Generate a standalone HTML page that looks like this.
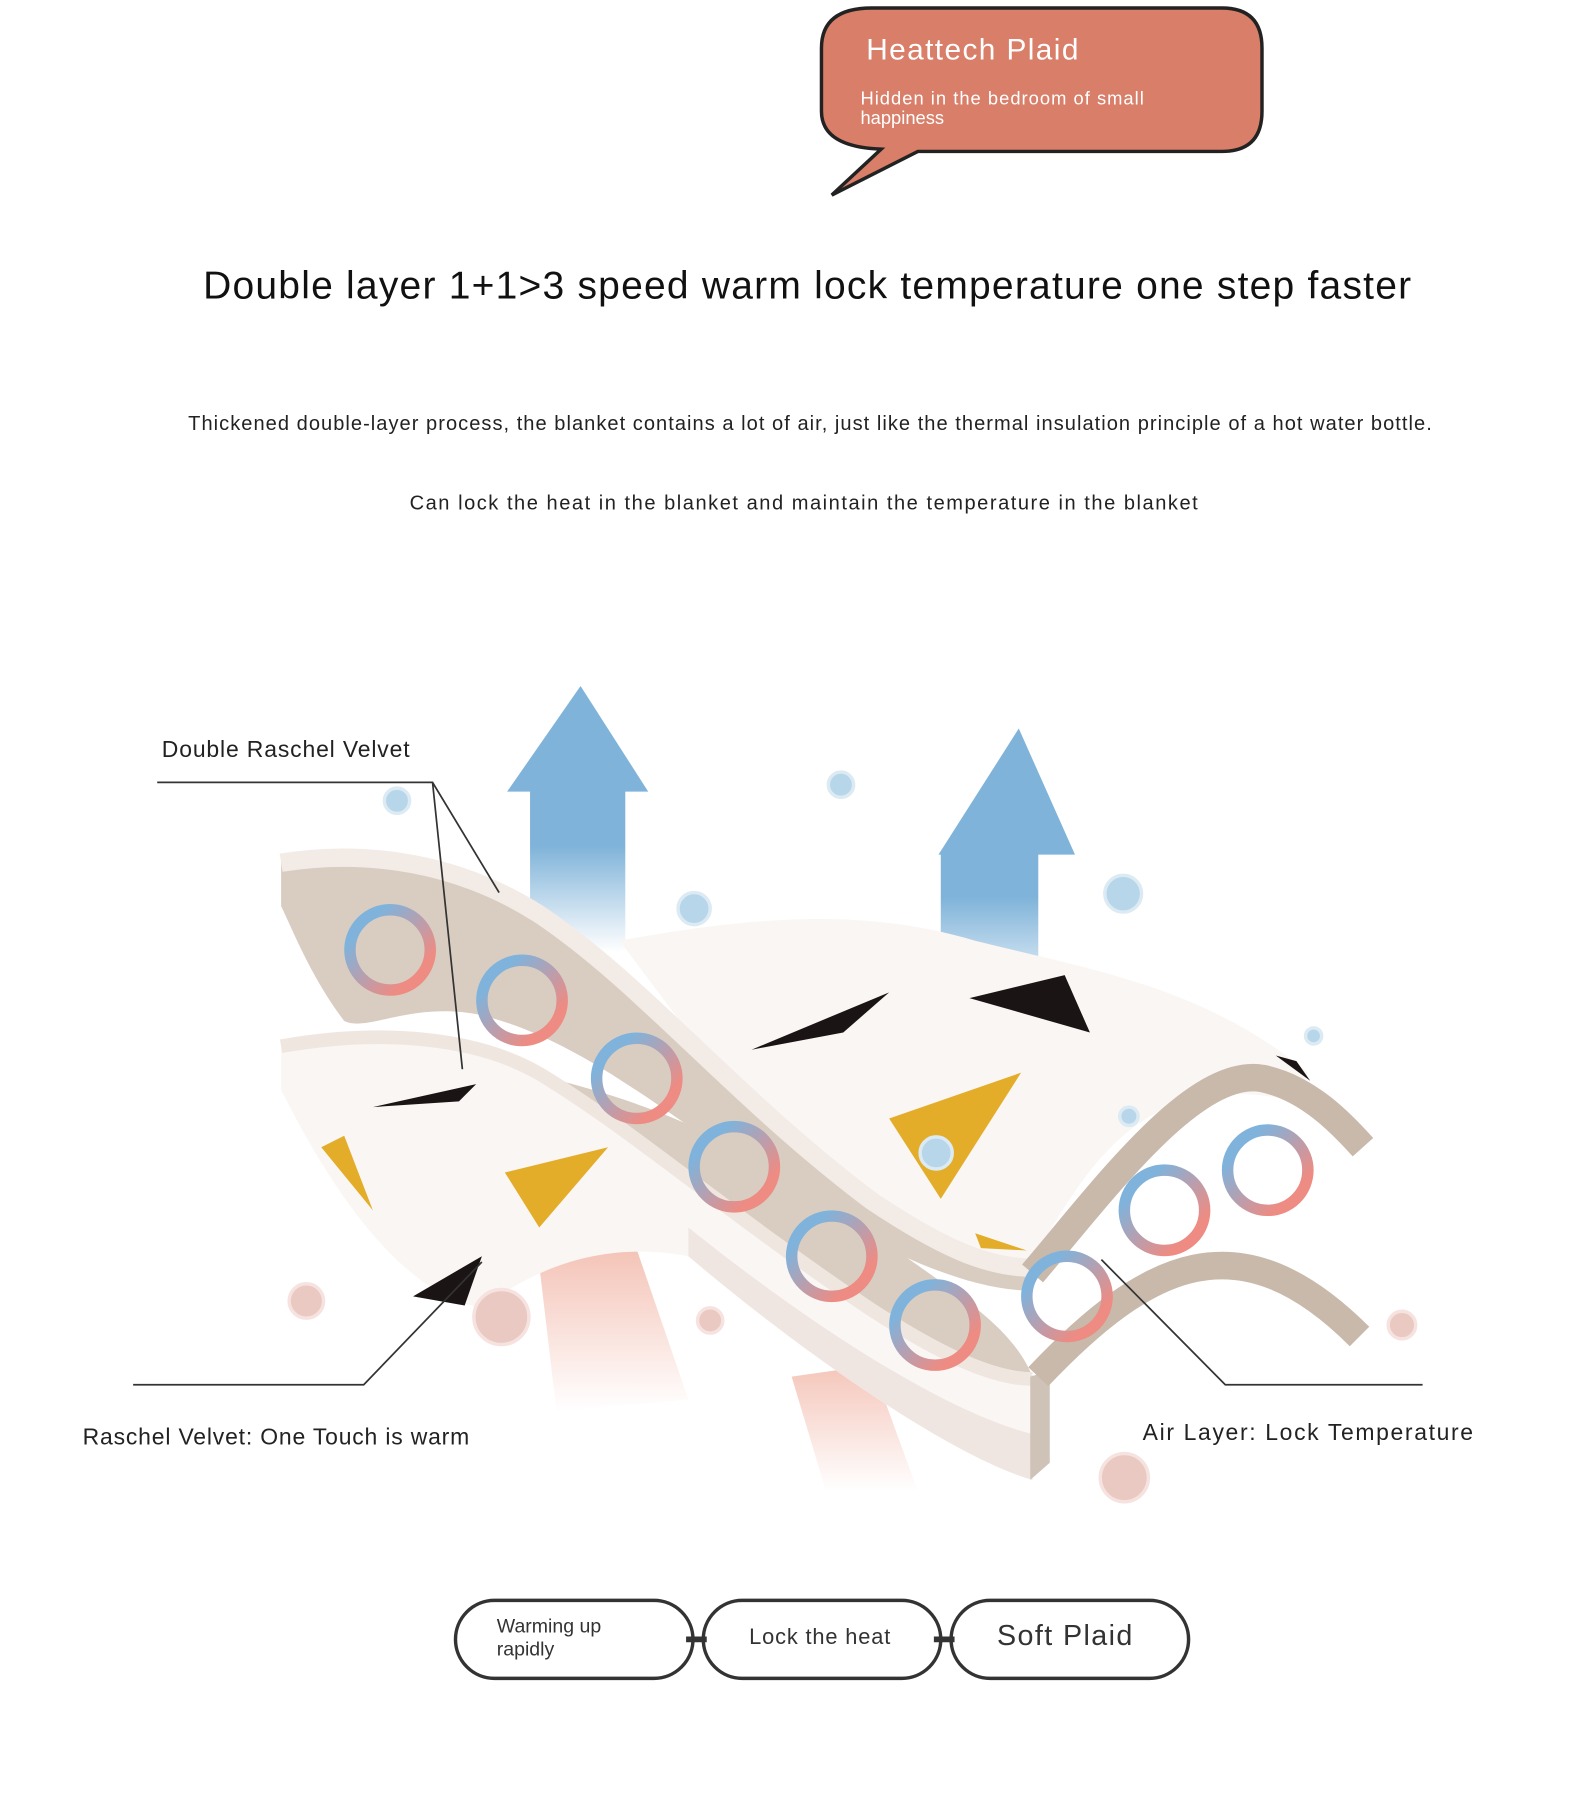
<!DOCTYPE html>
<html><head><meta charset="utf-8"><style>
html,body{margin:0;padding:0;background:#fff}
svg{display:block}
text{font-family:"Liberation Sans","DejaVu Sans",sans-serif}
</style></head><body>
<svg width="1589" height="1800" viewBox="0 0 1385 1569" xmlns="http://www.w3.org/2000/svg">
<defs>
<linearGradient id="ring" x1="0" y1="0" x2="1" y2="1">
<stop offset="0.2" stop-color="#7fb3dc"/><stop offset="0.8" stop-color="#ee8b82"/></linearGradient>
<linearGradient id="arr" x1="0" y1="0" x2="0" y2="1">
<stop offset="0.6" stop-color="#7fb3d9"/><stop offset="1" stop-color="#7fb3d9" stop-opacity="0"/></linearGradient>
<linearGradient id="beam" x1="0" y1="0" x2="0" y2="1">
<stop offset="0" stop-color="#f2b7a8"/><stop offset="1" stop-color="#f2b7a8" stop-opacity="0"/></linearGradient>
</defs>
<rect width="1385" height="1569" fill="#fff"/>
<!-- bubble -->
<path d="M760,7 H1065 Q1100,7 1100,42 V97 Q1100,132 1065,132 H800 L725,170 L768,130 Q716,128 716,97 V42 Q716,7 760,7 Z" fill="#d87e69" stroke="#222" stroke-width="3"/>
<text x="755" y="52" font-size="26" fill="#fff" textLength="185">Heattech Plaid</text>
<text x="750" y="91" font-size="16" fill="#fff" textLength="247">Hidden in the bedroom of small</text>
<text x="750" y="108" font-size="16" fill="#fff">happiness</text>
<text x="177" y="260" font-size="34" fill="#111" textLength="1053">Double layer 1+1&gt;3 speed warm lock temperature one step faster</text>
<text x="164" y="375" font-size="17.5" fill="#222" textLength="1084">Thickened double-layer process, the blanket contains a lot of air, just like the thermal insulation principle of a hot water bottle.</text>
<text x="357" y="444" font-size="17.5" fill="#222" textLength="687">Can lock the heat in the blanket and maintain the temperature in the blanket</text>
<!-- beams -->
<path d="M465,1060 L545,1060 L600,1220 L485,1230 Z" fill="url(#beam)"/>
<path d="M690,1200 L760,1190 L800,1300 L720,1300 Z" fill="url(#beam)" opacity="0.8"/>
<!-- arrows -->
<path d="M506,598 L565,690 L545,690 L545,830 L462,830 L462,690 L442,690 Z" fill="url(#arr)"/>
<path d="M888,635 L937,745 L905,745 L905,880 L820,880 L820,745 L818,745 Z" fill="url(#arr)"/>
<!-- upper white surface -->
<path d="M540,820 C650,800 750,790 850,820 C950,845 1050,860 1140,935 L1130,960 C1000,930 950,1010 900,1100 C800,1090 700,1000 600,900 Z" fill="#faf6f4"/>
<!-- upper beige band -->
<path d="M245,745 C320,735 400,745 470,790 C560,850 640,950 760,1040 C820,1080 860,1100 900,1100 L900,1125 C850,1125 790,1100 720,1060 C600,990 520,910 420,885 C360,872 320,900 300,890 C270,850 255,810 245,790 Z" fill="#d9cdc2"/>
<path d="M245,752 C320,740 400,752 470,797 C560,857 640,957 760,1047 C820,1087 860,1105 900,1105" fill="none" stroke="#f3ebe6" stroke-width="16"/>
<path d="M900,1110 C960,1040 1040,930 1100,940 C1140,948 1170,980 1188,1000" fill="none" stroke="#c8b9ab" stroke-width="24"/>
<!-- lower blanket -->
<path d="M245,910 C330,895 420,900 480,940 C560,990 640,1060 760,1140 C830,1185 870,1200 900,1200 L900,1290 C830,1270 700,1180 600,1095 C520,1080 460,1110 420,1140 C360,1130 300,1060 245,950 Z" fill="#faf6f4"/>
<path d="M480,940 C560,990 640,1060 760,1140 C830,1185 870,1200 900,1200 C880,1150 820,1120 740,1060 C640,990 560,960 480,940 Z" fill="#d9cdc2"/>
<path d="M245,912 C330,897 420,902 480,942 C560,992 640,1062 760,1142 C830,1187 870,1202 900,1202" fill="none" stroke="#f0e6e0" stroke-width="12"/>
<path d="M600,1095 C700,1180 830,1270 900,1290 L900,1250 C820,1230 700,1150 600,1070 Z" fill="#f0e6e1"/>
<path d="M898,1200 L898,1290 L915,1275 L915,1195 Z" fill="#cfc2b6"/>
<path d="M905,1200 C1000,1100 1080,1060 1185,1165" fill="none" stroke="#c8b9ab" stroke-width="24"/>
<!-- triangles -->
<g fill="#1a1414">
<path d="M325,965 L415,945 L400,960 Z"/><path d="M655,915 L775,865 L735,900 Z"/>
<path d="M845,870 L928,850 L950,900 Z"/><path d="M360,1130 L420,1095 L405,1138 Z"/>
<path d="M1112,920 L1130,925 L1142,942 Z"/></g>
<g fill="#e3ad2a">
<path d="M280,1000 L300,990 L325,1055 Z"/><path d="M440,1022 L530,1000 L470,1070 Z"/>
<path d="M775,975 L890,935 L820,1045 Z"/><path d="M850,1075 L895,1090 L855,1088 Z"/></g>
<!-- rings -->
<g fill="none" stroke="url(#ring)" stroke-width="10">
<circle cx="340" cy="828" r="35"/><circle cx="455" cy="872" r="35"/><circle cx="555" cy="940" r="35"/>
<circle cx="640" cy="1017" r="35"/><circle cx="725" cy="1095" r="35"/><circle cx="815" cy="1155" r="35"/>
<circle cx="930" cy="1130" r="35"/><circle cx="1015" cy="1055" r="35"/><circle cx="1105" cy="1020" r="35"/></g>
<!-- dots -->
<g fill="#b7d6ea" stroke="#dbeaf3" stroke-width="3">
<circle cx="346" cy="698" r="11"/><circle cx="733" cy="684" r="11"/><circle cx="605" cy="792" r="14"/>
<circle cx="979" cy="779" r="16"/><circle cx="1145" cy="903" r="7"/><circle cx="984" cy="973" r="8"/><circle cx="816" cy="1005" r="14"/></g>
<g fill="#ebc9c3" stroke="#f6e3df" stroke-width="3">
<circle cx="267" cy="1134" r="15"/><circle cx="437" cy="1148" r="24"/><circle cx="619" cy="1151" r="11"/>
<circle cx="1222" cy="1155" r="12"/><circle cx="980" cy="1288" r="21"/></g>
<!-- leaders -->
<g fill="none" stroke="#333" stroke-width="1.5">
<path d="M137,682 L377,682 L435,778 M377,682 L403,932"/>
<path d="M116,1207 L317,1207 L420,1100"/>
<path d="M1240,1207 L1068,1207 L960,1098"/></g>
<g font-size="20" fill="#222">
<text x="141" y="660" textLength="216">Double Raschel Velvet</text>
<text x="72" y="1259" textLength="337">Raschel Velvet: One Touch is warm</text>
<text x="996" y="1255" textLength="288">Air Layer: Lock Temperature</text></g>
<!-- pills -->
<g fill="#fff" stroke="#333" stroke-width="3">
<rect x="397" y="1395" width="207" height="68" rx="34"/>
<rect x="613" y="1395" width="207" height="68" rx="34"/>
<rect x="829" y="1395" width="207" height="68" rx="34"/></g>
<path d="M598,1429 H616 M814,1429 H832" stroke="#333" stroke-width="5"/>
<text x="433" y="1423" font-size="17" fill="#333">Warming up</text>
<text x="433" y="1443" font-size="17" fill="#333">rapidly</text>
<text x="653" y="1433" font-size="19" fill="#333" textLength="123">Lock the heat</text>
<text x="869" y="1434" font-size="25" fill="#333" textLength="118">Soft Plaid</text>
</svg>
</body></html>
